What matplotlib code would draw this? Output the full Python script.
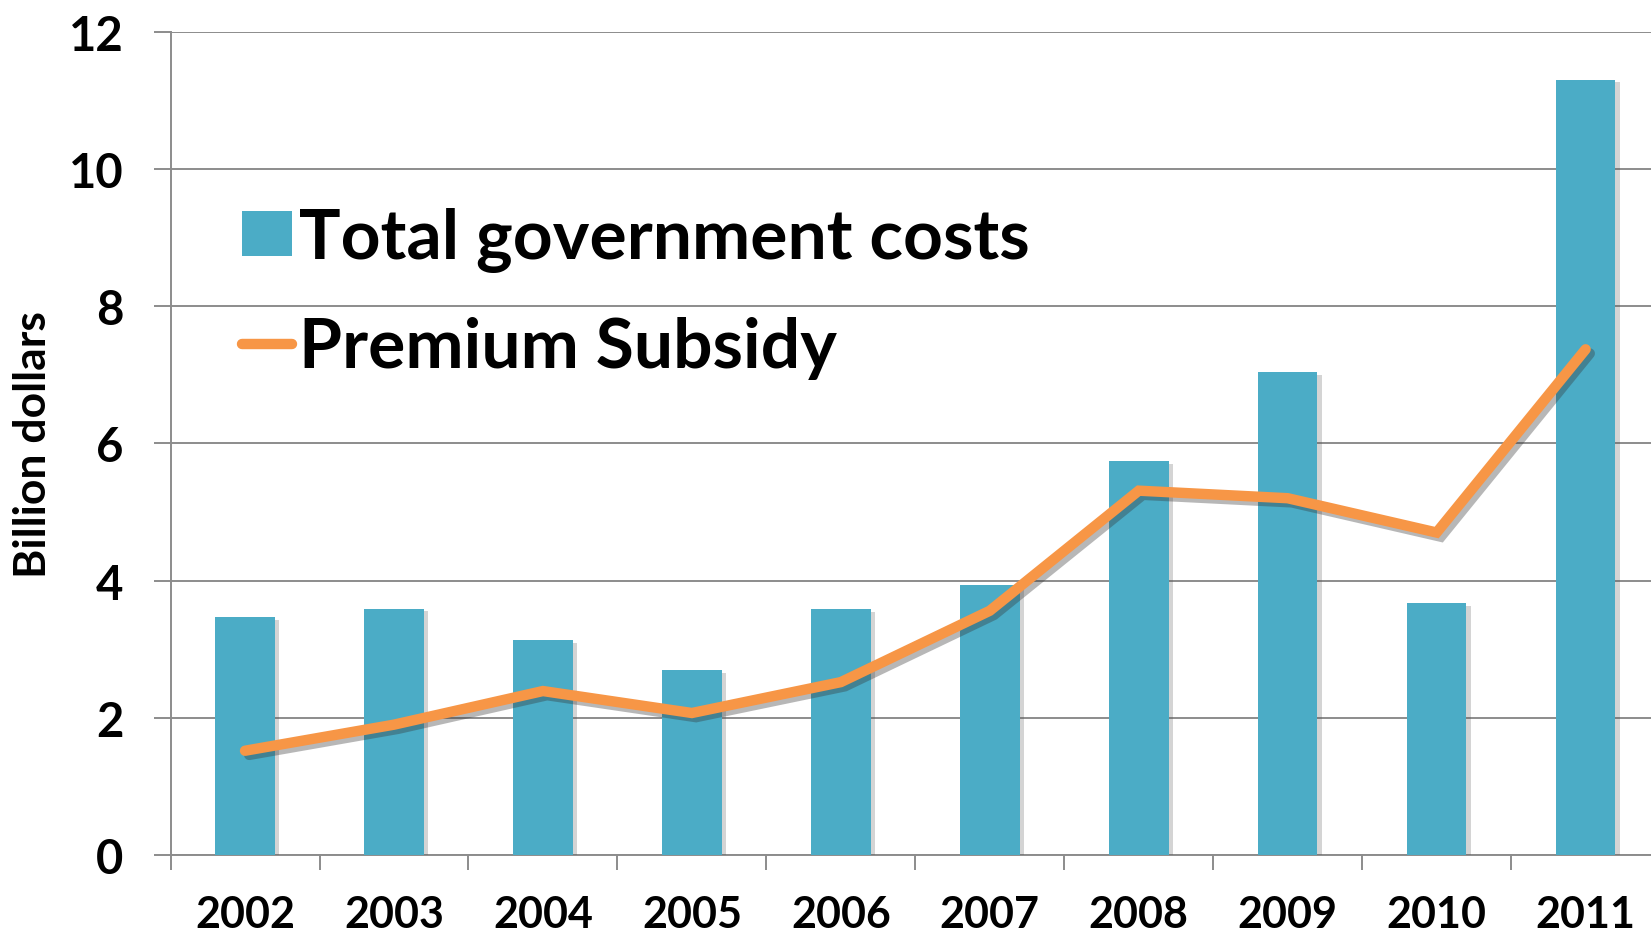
import numpy as np
import matplotlib
matplotlib.use("Agg")
from matplotlib import pyplot as plt
from matplotlib import patheffects as pe
from matplotlib.patches import Patch
from matplotlib.lines import Line2D

years = ["2002", "2003", "2004", "2005", "2006", "2007", "2008", "2009", "2010", "2011"]
total_costs = [3.47, 3.59, 3.13, 2.70, 3.58, 3.94, 5.74, 7.04, 3.67, 11.30]
premium_subsidy = [1.52, 1.90, 2.39, 2.07, 2.52, 3.56, 5.31, 5.20, 4.70, 7.37]

bar_color = "#4BACC6"
line_color = "#F79646"
grid_color = "#8C8C8C"

plt.rcParams['font.family'] = ['Lato', 'DejaVu Sans']
plt.rcParams['font.weight'] = 'bold'

fig = plt.figure(figsize=(16.51, 9.37), dpi=100)
ax = fig.add_axes([0.1033, 0.0864, 0.9022, 0.8788])

x = np.arange(len(years))
bars = ax.bar(x, total_costs, width=0.4, color=bar_color, zorder=3,
              path_effects=[pe.SimplePatchShadow(offset=(3, -2), alpha=0.25, shadow_rgbFace='#555555'),
                            pe.Normal()])
ax.plot(x, premium_subsidy, color=line_color, linewidth=7.5, solid_capstyle='round',
        solid_joinstyle='miter', zorder=4,
        path_effects=[pe.SimpleLineShadow(offset=(3, -3), alpha=0.35, shadow_color='#333333'),
                      pe.Normal()])

ax.set_xlim(-0.5, len(years) - 0.5)
ax.set_ylim(0, 12)
ax.set_yticks(np.arange(0, 13, 2))
ax.grid(axis='y', color=grid_color, linewidth=1.4, zorder=0)
ax.set_axisbelow(True)

# year labels sit between the category boundary ticks
ax.set_xticks(x)
ax.set_xticklabels(years, fontsize=31, fontweight='bold')
ax.set_xticks(np.arange(0, len(years)) - 0.5, minor=True)
ax.tick_params(axis='x', which='major', length=0, pad=28)
ax.tick_params(axis='x', which='minor', length=11, width=1.4, color=grid_color)
ax.tick_params(axis='y', length=12, width=1.4, color=grid_color, pad=22, labelsize=34)
for lab in ax.get_yticklabels():
    lab.set_fontweight('bold')

for side in ['top', 'right']:
    ax.spines[side].set_visible(False)
for side in ['left', 'bottom']:
    ax.spines[side].set_color(grid_color)
    ax.spines[side].set_linewidth(1.4)

ax.set_ylabel("Billion dollars", fontsize=32, fontweight='bold')
ax.yaxis.set_label_coords(-0.079, 0.5)

handles = [Patch(facecolor=bar_color, edgecolor='none'),
           Line2D([0], [0], color=line_color, linewidth=7.5, solid_capstyle='round')]
leg = ax.legend(handles, ["Total government costs", "Premium Subsidy"],
                loc='upper left', bbox_to_anchor=(242 / 1651, 1 - 208 / 937),
                bbox_transform=fig.transFigure, frameon=False,
                prop={'family': ['Lato', 'DejaVu Sans'], 'weight': 'bold', 'size': 50},
                handlelength=0.72, handleheight=0.6, handletextpad=0.1,
                labelspacing=0.64, borderaxespad=0, borderpad=0)

fig.savefig("out.png", dpi=100)
